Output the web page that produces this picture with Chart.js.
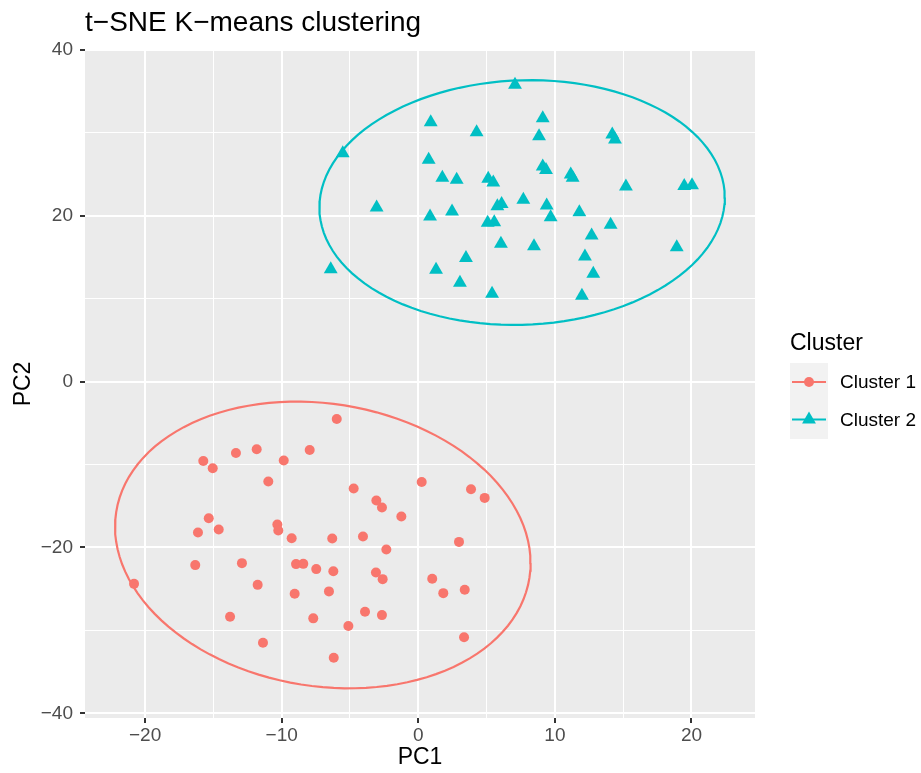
<!DOCTYPE html>
<html>
<head>
<meta charset="utf-8">
<script src="https://cdn.jsdelivr.net/npm/chart.js@4"></script>
<style>
  body { margin: 0; background: #fff; }
  #grafico { display: block; }
</style>
</head>
<body>
<canvas id="grafico" width="921" height="773"></canvas>
<script>
var cluster1X = [-5.97, -15.74, -15.05, -13.35, -11.83, -9.85, -7.95, -10.98, -4.73, 0.25, 3.86, 4.86, -3.07, -2.66, -1.24, -15.34, -16.13, -14.61, -10.32, -10.25, -9.27, -6.3, -4.05, 2.98, -2.34, -16.33, -12.91, -8.95, -8.42, -7.47, -6.22, -3.1, -2.61, 1.02, -20.81, -11.76, 1.83, 3.4, -9.05, -6.54, -13.78, -7.69, -3.9, -2.66, -5.12, -11.37, 3.35, -6.19];
var cluster1Y = [-4.5, -9.57, -10.45, -8.6, -8.16, -9.52, -8.24, -12.05, -12.89, -12.1, -12.98, -14.02, -14.34, -15.18, -16.27, -16.47, -18.19, -17.83, -17.23, -17.95, -18.88, -18.92, -18.67, -19.33, -20.24, -22.13, -21.89, -22.01, -21.98, -22.61, -22.86, -23.01, -23.82, -23.78, -24.39, -24.51, -25.51, -25.1, -25.59, -25.3, -28.36, -28.55, -27.76, -28.16, -29.48, -31.49, -30.84, -33.3];

var cluster2X = [7.08, 0.91, 9.11, 4.27, 8.84, 14.2, 14.4, -5.53, 0.76, 9.11, 9.35, 11.16, 11.3, 1.76, 2.81, 5.12, 5.49, 15.2, 19.47, 20.04, -3.05, 6.1, 5.79, 7.69, 9.4, 11.79, 9.69, 0.86, 2.47, 5.08, 5.56, 14.08, 12.69, 18.92, 6.05, 8.47, 12.2, 3.49, 12.81, -6.41, 1.3, 3.05, 5.4, 11.98];
var cluster2Y = [35.8, 31.28, 31.76, 30.07, 29.59, 29.8, 29.2, 27.54, 26.75, 25.94, 25.54, 24.98, 24.58, 24.58, 24.34, 24.46, 24.01, 23.53, 23.61, 23.69, 21.0, 21.44, 21.16, 21.93, 21.24, 20.43, 19.83, 19.92, 20.52, 19.16, 19.23, 18.91, 17.62, 16.22, 16.62, 16.34, 15.1, 14.9, 13.01, 13.57, 13.49, 11.93, 10.6, 10.36];

// ellipse: centre, then [half width, half height, xy spread]
var ellipse1Center = [-6.99, -19.70];
var ellipse1Spread = [15.21, 17.29, -33.3];
var ellipse2Center = [7.6, 21.6];
var ellipse2Spread = [14.84, 14.76, 8.9];

var seriesNames = ["Cluster 1", "Cluster 2"];
var xMajor = [-20, -10, 0, 10, 20];
var xMinor = [-15, -5, 5, 15];
var yMajor = [-40, -20, 0, 20, 40];
var yMinor = [-30, -10, 10, 30];

var red = "#F8766D";
var cyan = "#00BFC4";

function toPoints(xs, ys) {
    return xs.map(function (x, i) { return { x: x, y: ys[i] }; });
}

function ellipsePath(c, s) {
    var a = s[0];
    var b21 = s[2] / a;
    var b22 = Math.sqrt(s[1] * s[1] - b21 * b21);
    var pts = [];
    for (var k = 0; k <= 120; k++) {
        var t = k / 120 * Math.PI * 2;
        pts.push({ x: c[0] + a * Math.cos(t), y: c[1] + b21 * Math.cos(t) + b22 * Math.sin(t) });
    }
    return pts;
}

function minus(v) {
    return v < 0 ? "\u2212" + Math.abs(v) : String(v);
}

var FONT = "'Liberation Sans', Arial, sans-serif";

var decor = {
    id: "decor",
    beforeDraw: function (chart) {
        var ctx = chart.ctx, a = chart.chartArea;
        ctx.save();
        ctx.fillStyle = "#EBEBEB";
        ctx.fillRect(a.left, a.top, a.right - a.left, a.bottom - a.top);
        ctx.restore();
    },
    afterDraw: function (chart) {
        var ctx = chart.ctx;
        ctx.save();
        // title
        ctx.fillStyle = "#000";
        ctx.font = "28px " + FONT;
        ctx.textBaseline = "alphabetic";
        ctx.textAlign = "left";
        ctx.fillText("t\u2212SNE K\u2212means clustering", 85, 31);

        // legend
        ctx.font = "23px " + FONT;
        ctx.fillText("Cluster", 790, 350);
        ctx.fillStyle = "#F2F2F2";
        ctx.fillRect(790, 363, 38, 76);
        var cols = [red, cyan];
        for (var i = 0; i < 2; i++) {
            var cy = 382 + i * 37.5;
            ctx.strokeStyle = cols[i];
            ctx.lineWidth = 2.2;
            ctx.beginPath();
            ctx.moveTo(792, cy);
            ctx.lineTo(826, cy);
            ctx.stroke();
            ctx.fillStyle = cols[i];
            ctx.beginPath();
            if (i === 0) {
                ctx.arc(809, cy, 5, 0, Math.PI * 2);
            } else {
                ctx.moveTo(809, cy - 8);
                ctx.lineTo(809 + 6.93, cy + 4);
                ctx.lineTo(809 - 6.93, cy + 4);
                ctx.closePath();
            }
            ctx.fill();
            ctx.fillStyle = "#000";
            ctx.font = "19px " + FONT;
            ctx.textBaseline = "middle";
            ctx.fillText(seriesNames[i], 840, cy + 1);
        }
        ctx.restore();
    }
};

function gridSetup(major, minor) {
    return function (scale) {
        scale.ticks = major.concat(minor).sort(function (p, q) { return p - q; })
            .map(function (v) { return { value: v }; });
    };
}

var data = {
    datasets: [{
        label: seriesNames[0],
        data: toPoints(cluster1X, cluster1Y),
        backgroundColor: red,
        borderWidth: 0,
        pointStyle: "circle",
        pointRadius: 5
    }, {
        label: seriesNames[1],
        data: toPoints(cluster2X, cluster2Y),
        backgroundColor: cyan,
        borderWidth: 0,
        pointStyle: "triangle",
        pointRadius: 8
    }, {
        label: "ellipse 1",
        data: ellipsePath(ellipse1Center, ellipse1Spread),
        showLine: true,
        fill: false,
        borderColor: red,
        borderWidth: 2.2,
        pointRadius: 0,
        tension: 0
    }, {
        label: "ellipse 2",
        data: ellipsePath(ellipse2Center, ellipse2Spread),
        showLine: true,
        fill: false,
        borderColor: cyan,
        borderWidth: 2.2,
        pointRadius: 0,
        tension: 0
    }]
};

var options = {
    responsive: false,
    animation: false,
    events: [],
    layout: { padding: { top: 50, right: 166, left: 0, bottom: 0 } },
    plugins: { legend: { display: false }, title: { display: false }, tooltip: { enabled: false } },
    scales: {
        x: {
            type: "linear",
            min: -24.4,
            max: 24.65,
            afterBuildTicks: gridSetup(xMajor, xMinor),
            afterFit: function (s) { s.height = 55; },
            border: { display: false },
            grid: {
                color: "#FFFFFF",
                lineWidth: function (c) { return xMajor.indexOf(c.tick.value) >= 0 ? 2 : 1; },
                tickColor: function (c) { return xMajor.indexOf(c.tick.value) >= 0 ? "#333333" : "rgba(0,0,0,0)"; },
                tickLength: 5,
                tickWidth: 2
            },
            ticks: {
                autoSkip: false,
                maxRotation: 0,
                padding: 1,
                color: "#4D4D4D",
                font: { family: FONT, size: 19 },
                callback: function (v) { return xMajor.indexOf(v) >= 0 ? minus(v) : ""; }
            },
            title: {
                display: true,
                text: "PC1",
                color: "#000",
                font: { family: FONT, size: 23 },
                padding: { top: 0, bottom: 2 }
            }
        },
        y: {
            type: "linear",
            min: -40.57,
            max: 40.0,
            afterBuildTicks: gridSetup(yMajor, yMinor),
            afterFit: function (s) { s.width = 85; },
            border: { display: false },
            grid: {
                color: "#FFFFFF",
                lineWidth: function (c) { return yMajor.indexOf(c.tick.value) >= 0 ? 2 : 1; },
                tickColor: function (c) { return yMajor.indexOf(c.tick.value) >= 0 ? "#333333" : "rgba(0,0,0,0)"; },
                tickLength: 5,
                tickWidth: 2
            },
            ticks: {
                autoSkip: false,
                padding: 7,
                color: "#4D4D4D",
                font: { family: FONT, size: 19 },
                callback: function (v) { return yMajor.indexOf(v) >= 0 ? minus(v) : ""; }
            },
            title: {
                display: true,
                text: "PC2",
                color: "#000",
                font: { family: FONT, size: 23 },
                padding: { top: 10, bottom: 0 }
            }
        }
    }
};

var ctx = document.querySelector('#grafico').getContext('2d');
var scatterChart = new Chart(ctx, {
    type: "scatter",
    data: data,
    options: options,
    plugins: [decor]
});
</script>
</body>
</html>
